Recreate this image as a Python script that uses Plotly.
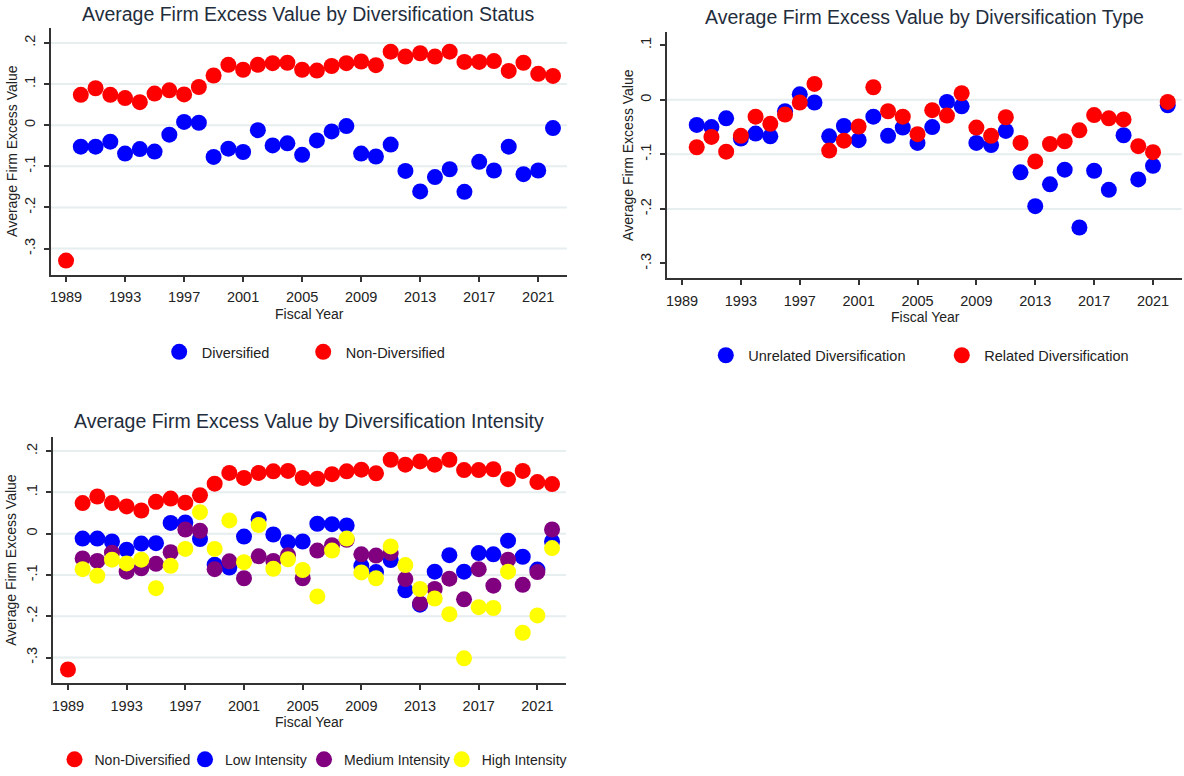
import plotly.graph_objects as go

W, H = 1184, 776
FONT = "Liberation Sans, Arial, sans-serif"

# Fiscal years
years = list(range(1989, 2023))
years_div = list(range(1990, 2023))

# Panel 1 / Panel 3: non-diversified firms (1989-2022)
non_diversified = [-0.329, 0.074, 0.090, 0.074, 0.066, 0.056, 0.077, 0.085, 0.075, 0.093,
                   0.121, 0.147, 0.135, 0.147, 0.151, 0.152, 0.135, 0.133, 0.144, 0.151,
                   0.155, 0.146, 0.179, 0.167, 0.175, 0.167, 0.179, 0.154, 0.154, 0.156,
                   0.132, 0.152, 0.125, 0.120]

# Panel 1: diversified firms (1990-2022)
diversified = [-0.052, -0.052, -0.040, -0.069, -0.058, -0.064, -0.023, 0.008, 0.006, -0.077,
               -0.057, -0.065, -0.012, -0.049, -0.044, -0.072, -0.037, -0.015, -0.002, -0.069,
               -0.076, -0.047, -0.111, -0.161, -0.126, -0.107, -0.162, -0.089, -0.110, -0.052,
               -0.119, -0.110, -0.007]

# Panel 2: diversification type (1990-2022)
unrelated = [-0.046, -0.050, -0.034, -0.071, -0.062, -0.067, -0.021, 0.010, -0.005, -0.067,
             -0.048, -0.074, -0.031, -0.066, -0.051, -0.079, -0.050, -0.004, -0.012, -0.079,
             -0.083, -0.057, -0.133, -0.195, -0.155, -0.128, -0.234, -0.130, -0.165, -0.065,
             -0.146, -0.121, -0.010]
related = [-0.087, -0.068, -0.095, -0.066, -0.031, -0.044, -0.027, -0.005, 0.029, -0.093,
           -0.075, -0.049, 0.023, -0.021, -0.031, -0.063, -0.019, -0.029, 0.012, -0.051,
           -0.066, -0.032, -0.079, -0.113, -0.081, -0.076, -0.056, -0.028, -0.034, -0.036,
           -0.085, -0.096, -0.004]

# Panel 3: diversification intensity (1990-2022)
low_intensity = [-0.012, -0.012, -0.019, -0.039, -0.024, -0.023, 0.026, 0.027, -0.013, -0.075,
                 -0.082, -0.007, 0.035, -0.002, -0.021, -0.019, 0.024, 0.023, 0.020, -0.078,
                 -0.093, -0.064, -0.137, -0.172, -0.092, -0.052, -0.092, -0.047, -0.050, -0.017,
                 -0.056, -0.087, -0.019]
medium_intensity = [-0.060, -0.066, -0.046, -0.092, -0.084, -0.073, -0.045, 0.010, 0.007, -0.086,
                    -0.067, -0.108, -0.055, -0.066, -0.052, -0.108, -0.041, -0.028, -0.015, -0.050,
                    -0.053, -0.047, -0.110, -0.169, -0.134, -0.109, -0.159, -0.086, -0.126, -0.063,
                    -0.124, -0.093, 0.010]
high_intensity = [-0.086, -0.102, -0.063, -0.072, -0.063, -0.132, -0.078, -0.037, 0.052, -0.037,
                  0.032, -0.069, 0.021, -0.085, -0.062, -0.088, -0.152, -0.041, -0.012, -0.094,
                  -0.108, -0.031, -0.076, -0.134, -0.157, -0.195, -0.302, -0.178, -0.180, -0.092,
                  -0.240, -0.198, -0.035]

# Axis ticks
x_ticks = list(range(1989, 2022, 4))
y_ticks_full = [0.2, 0.1, 0.0, -0.1, -0.2, -0.3]
y_text_full = [".2", ".1", "0", "-.1", "-.2", "-.3"]
y_ticks_type = [0.1, 0.0, -0.1, -0.2, -0.3]
y_text_type = [".1", "0", "-.1", "-.2", "-.3"]
grid_full = [0.2, 0.1, 0.0, -0.1, -0.2, -0.3]
grid_type = [0.0, -0.1, -0.2]

RED, BLUE, PURPLE, YELLOW = "#ff0000", "#0000ff", "#800080", "#ffff00"
TEXT = "#222222"
TITLE = "#1f2d3d"
AXIS = "#333333"
GRID = "#e6eef0"


def px_x(p):
    return p / W


def px_y(p):
    return 1 - p / H


fig = go.Figure()


def add_points(x, y, color, name, xa, ya, legend):
    fig.add_trace(go.Scatter(
        x=x, y=y, mode="markers", name=name,
        marker=dict(color=color, size=16, line=dict(width=0)),
        xaxis=xa, yaxis=ya, legend=legend, showlegend=True,
        hoverinfo="x+y",
    ))


# Panel 1
add_points(years_div, diversified, BLUE, "Diversified", "x", "y", "legend")
add_points(years, non_diversified, RED, "Non-Diversified", "x", "y", "legend2")
# Panel 2
add_points(years_div, unrelated, BLUE, "Unrelated Diversification", "x2", "y2", "legend3")
add_points(years_div, related, RED, "Related Diversification", "x2", "y2", "legend4")
# Panel 3
add_points(years, non_diversified, RED, "Non-Diversified", "x3", "y3", "legend5")
add_points(years_div, low_intensity, BLUE, "Low Intensity", "x3", "y3", "legend6")
add_points(years_div, medium_intensity, PURPLE, "Medium Intensity", "x3", "y3", "legend7")
add_points(years_div, high_intensity, YELLOW, "High Intensity", "x3", "y3", "legend8")


def x_axis(domain, anchor):
    return dict(
        domain=domain, anchor=anchor, range=[1987.96, 2022.95],
        tickmode="array", tickvals=x_ticks,
        ticks="outside", ticklen=5, tickwidth=1.5, tickcolor=AXIS,
        showline=True, linewidth=1.8, linecolor=AXIS,
        showgrid=False, zeroline=False,
        tickfont=dict(family=FONT, size=14.5, color=TEXT),
        ticklabelstandoff=3,
    )


def y_axis(domain, anchor, rng, vals, text):
    return dict(
        domain=domain, anchor=anchor, range=rng,
        tickmode="array", tickvals=vals, ticktext=text, tickangle=-90,
        ticks="outside", ticklen=5, tickwidth=1.5, tickcolor=AXIS,
        showline=True, linewidth=1.8, linecolor=AXIS,
        showgrid=False, zeroline=False,
        tickfont=dict(family=FONT, size=14.5, color=TEXT),
        ticklabelstandoff=3,
    )


# Plot-area boxes in pixels: (left, right, top, bottom)
box1 = (50.7, 567.0, 28.3, 276.0)
box2 = (666.7, 1181.7, 31.7, 279.3)
box3 = (52.7, 566.0, 438.3, 686.0)


def dom(box):
    l, r, t, b = box
    return [px_x(l), px_x(r)], [px_y(b), px_y(t)]


d1x, d1y = dom(box1)
d2x, d2y = dom(box2)
d3x, d3y = dom(box3)

fig.update_layout(
    xaxis=x_axis(d1x, "y"),
    yaxis=y_axis(d1y, "x", [-0.364, 0.236], y_ticks_full, y_text_full),
    xaxis2=x_axis(d2x, "y2"),
    yaxis2=y_axis(d2y, "x2", [-0.327, 0.125], y_ticks_type, y_text_type),
    xaxis3=x_axis(d3x, "y3"),
    yaxis3=y_axis(d3y, "x3", [-0.3625, 0.235], y_ticks_full, y_text_full),
)

# Horizontal gridlines
shapes = []
for xr, yr, vals in (("x", "y", grid_full), ("x2", "y2", grid_type), ("x3", "y3", grid_full)):
    for v in vals:
        shapes.append(dict(type="line", xref=f"{xr} domain", yref=yr, x0=0, x1=1, y0=v, y1=v,
                           line=dict(color=GRID, width=2), layer="below"))
fig.update_layout(shapes=shapes)

# Titles and axis labels
annotations = []


def text(s, x, y, size, color, angle=0):
    annotations.append(dict(text=s, x=px_x(x), y=px_y(y), xref="paper", yref="paper",
                            xanchor="center", yanchor="middle", showarrow=False,
                            textangle=angle, font=dict(family=FONT, size=size, color=color)))


text("Average Firm Excess Value by Diversification Status", 308, 14, 19.5, TITLE)
text("Average Firm Excess Value by Diversification Type", 924.5, 17, 19.5, TITLE)
text("Average Firm Excess Value by Diversification Intensity", 308.5, 423, 19.5, TITLE)
text("Average Firm Excess Value", 12.5, 152, 14, TEXT, -90)
text("Average Firm Excess Value", 628, 155.5, 14, TEXT, -90)
text("Average Firm Excess Value", 11, 562, 14, TEXT, -90)
text("Fiscal Year", 309, 315, 14, TEXT)
text("Fiscal Year", 925, 318.5, 14, TEXT)
text("Fiscal Year", 309, 725, 14, TEXT)
fig.update_layout(annotations=annotations)

# One legend per entry so each key sits at its own spot: (left px, centre y px, item width, font size)
legend_pos = {
    "legend": (156.7, 353.3, 35, 14.5), "legend2": (300.7, 353.3, 35, 14.5),
    "legend3": (703.3, 356.7, 35, 14.5), "legend4": (939.3, 356.7, 35, 14.5),
    "legend5": (54.5, 762.7, 30, 14), "legend6": (185.0, 762.7, 30, 14),
    "legend7": (304.0, 762.7, 30, 14), "legend8": (441.7, 762.7, 30, 14),
}
for key, (lx, cy, iw, fs) in legend_pos.items():
    fig.update_layout({key: dict(
        x=px_x(lx), y=px_y(cy), xanchor="left", yanchor="middle",
        orientation="h", bgcolor="rgba(0,0,0,0)", borderwidth=0, itemwidth=iw,
        font=dict(family=FONT, size=fs, color=TEXT),
    )})

fig.update_layout(
    width=W, height=H, margin=dict(l=0, r=0, t=0, b=0),
    paper_bgcolor="white", plot_bgcolor="white",
    showlegend=True,
)

fig.write_html("out.html")
